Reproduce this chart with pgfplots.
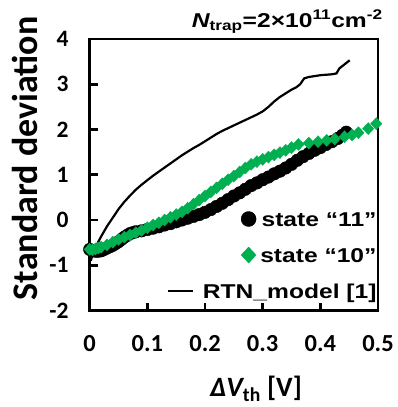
\documentclass[border=0pt]{standalone}
\usepackage{graphicx}
\usepackage{fontspec}
\setmainfont{Carlito}
\newfontfamily\legfont{Liberation Sans}
\usepackage{pgfplots}
\pgfplotsset{compat=1.18}
\definecolor{sgreen}{RGB}{0,176,80}
\newlength\wa
\newlength\wc
\newlength\mx
\newcommand\sx[1]{\scalebox{1.23}[1]{#1}}
\pgfplotsset{
  legcirc/.style={legend image code/.code={\draw[overlay,##1,mark size=7.5pt] plot coordinates {(\mx,2pt)};}},
  legdiam/.style={legend image code/.code={\draw[overlay,##1,mark size=8pt] plot coordinates {(\mx,2pt)};}},
  legline/.style={legend image code/.code={\draw[overlay,##1] (-35pt,2pt) -- (-10pt,2pt);}},
}

\pgfplotstableread{
x y
0.000 -0.65
0.005 -0.68
0.010 -0.69
0.015 -0.69
0.020 -0.68
0.025 -0.65
0.030 -0.62
0.035 -0.59
0.040 -0.56
0.045 -0.52
0.050 -0.48
0.055 -0.43
0.060 -0.38
0.065 -0.34
0.070 -0.30
0.075 -0.28
0.080 -0.26
0.090 -0.24
0.100 -0.21
0.110 -0.18
0.120 -0.15
0.130 -0.11
0.140 -0.08
0.150 -0.04
0.160 0.00
0.170 0.04
0.180 0.08
0.190 0.12
0.200 0.17
0.210 0.23
0.220 0.30
0.230 0.37
0.240 0.45
0.250 0.53
0.260 0.60
0.270 0.68
0.280 0.76
0.290 0.82
0.300 0.89
0.310 0.95
0.320 1.02
0.330 1.08
0.340 1.15
0.350 1.23
0.360 1.32
0.370 1.40
0.380 1.47
0.390 1.54
0.400 1.60
0.410 1.67
0.420 1.73
0.430 1.80
0.438 1.87
0.445 1.94
}\stateA

\pgfplotstableread{
x y
0.000 -0.65
0.005 -0.66
0.010 -0.64
0.015 -0.62
0.020 -0.60
0.030 -0.55
0.040 -0.49
0.050 -0.43
0.060 -0.38
0.070 -0.33
0.080 -0.28
0.090 -0.23
0.100 -0.17
0.110 -0.11
0.120 -0.06
0.130 0.00
0.140 0.06
0.150 0.12
0.160 0.18
0.170 0.26
0.180 0.35
0.190 0.44
0.200 0.53
0.210 0.62
0.220 0.71
0.230 0.80
0.240 0.89
0.250 0.97
0.260 1.06
0.270 1.15
0.280 1.23
0.290 1.29
0.300 1.34
0.310 1.39
0.320 1.44
0.330 1.49
0.340 1.54
0.350 1.60
0.362 1.67
0.380 1.70
0.396 1.73
0.411 1.76
0.425 1.79
0.442 1.84
0.455 1.88
0.466 1.93
0.483 2.02
0.497 2.13
}\stateB

\pgfplotstableread{
x y
0.002 -0.90
0.005 -0.76
0.010 -0.62
0.015 -0.48
0.020 -0.36
0.030 -0.14
0.040 0.05
0.050 0.24
0.060 0.40
0.070 0.54
0.080 0.67
0.090 0.78
0.100 0.88
0.110 0.98
0.120 1.07
0.130 1.16
0.140 1.25
0.150 1.34
0.160 1.43
0.170 1.51
0.180 1.59
0.190 1.66
0.200 1.74
0.210 1.82
0.220 1.90
0.230 1.97
0.240 2.03
0.250 2.09
0.260 2.15
0.270 2.21
0.280 2.27
0.290 2.33
0.300 2.40
0.310 2.50
0.320 2.62
0.330 2.72
0.340 2.80
0.350 2.88
0.358 2.93
0.365 3.00
0.372 3.13
0.380 3.16
0.390 3.18
0.400 3.20
0.410 3.21
0.420 3.22
0.428 3.24
0.433 3.35
0.440 3.42
0.451 3.53
}\rtn

\begin{document}
\settowidth\wa{\legfont\bfseries\fontsize{20}{24}\selectfont\sx{state “11”}}%
\settowidth\wc{\legfont\bfseries\fontsize{20}{24}\selectfont\sx{RTN\_model [1]}}%
\setlength\mx{\dimexpr\wc-\wa-13pt\relax}%
\begin{tikzpicture}[line width=2.7pt]
\begin{axis}[
  scale only axis, width=288.3pt, height=271.5pt,
  xmin=0, xmax=0.5, ymin=-2, ymax=4,
  xtick={0,0.1,0.2,0.3,0.4,0.5}, xticklabels={0,0.1,0.2,0.3,0.4,0.5},
  ytick={-2,-1,0,1,2,3,4}, yticklabels={-2,-1,0,1,2,3,4},
  xtick pos=left, ytick pos=left, tick align=inside,
  major tick length=8pt,
  axis line style={line width=2.7pt, line cap=rect},
  every tick/.style={black, line width=2.7pt},
  xticklabel style={font=\bfseries\fontsize{24.5}{28}\selectfont, anchor=base, yshift=-41pt, inner sep=0pt},
  yticklabel style={font=\bfseries\fontsize{23.5}{28}\selectfont, anchor=east, xshift=-21pt, inner sep=0pt},
  xlabel={{\itshape ΔV}\textsubscript{th} [V]},
  every axis x label/.style={at={(rel axis cs:0.577,-0.315)}, anchor=base, inner sep=0pt, font=\bfseries\fontsize{28}{34}\selectfont},
  ylabel={Standard deviation},
  every axis y label/.style={at={(rel axis cs:-0.2255,0.56)}, rotate=90, anchor=center, inner sep=0pt, font=\bfseries\fontsize{36}{42}\selectfont},
  legend cell align=right,
  legend style={draw=none, fill=none, at={(rel axis cs:1,0)}, anchor=south east, xshift=-1.5pt, yshift=7.5pt,
    inner sep=0pt, outer sep=0pt, row sep=16pt, column sep=0pt,
    font=\legfont\bfseries\fontsize{20}{24}\selectfont,
    nodes={inner sep=0pt, text height=15pt, text depth=5pt}},
]
\addplot[only marks, mark=*, mark size=6.3pt, black, mark options={line width=0.4pt}, legcirc]
  table[x=x,y=y] {\stateA};
\addlegendentry{\sx{state “11”}}
\addplot[only marks, mark=diamond*, mark size=6pt, sgreen, mark options={xscale=1.25, draw=sgreen, fill=sgreen, line width=0.4pt}, legdiam]
  table[x=x,y=y] {\stateB};
\addlegendentry{\sx{state “10”}}
\addplot[black, line width=2.2pt, mark=none, legline]
  table[x=x,y=y] {\rtn};
\addlegendentry{\sx{RTN\_model [1]}}
\coordinate (O) at (rel axis cs:0,0);
\end{axis}
\path (O) ++(293.3pt,283.2pt) node[anchor=base east, inner sep=0pt, font=\legfont\bfseries\fontsize{20}{24}\selectfont]
  {\sx{{\itshape N}\textsubscript{trap}=2×10\textsuperscript{11}cm\textsuperscript{-2}}};
\pgfresetboundingbox
\path[use as bounding box] (O) ++(-89.7pt,-96.5pt) rectangle ++(398pt,407pt);
\end{tikzpicture}
\end{document}
